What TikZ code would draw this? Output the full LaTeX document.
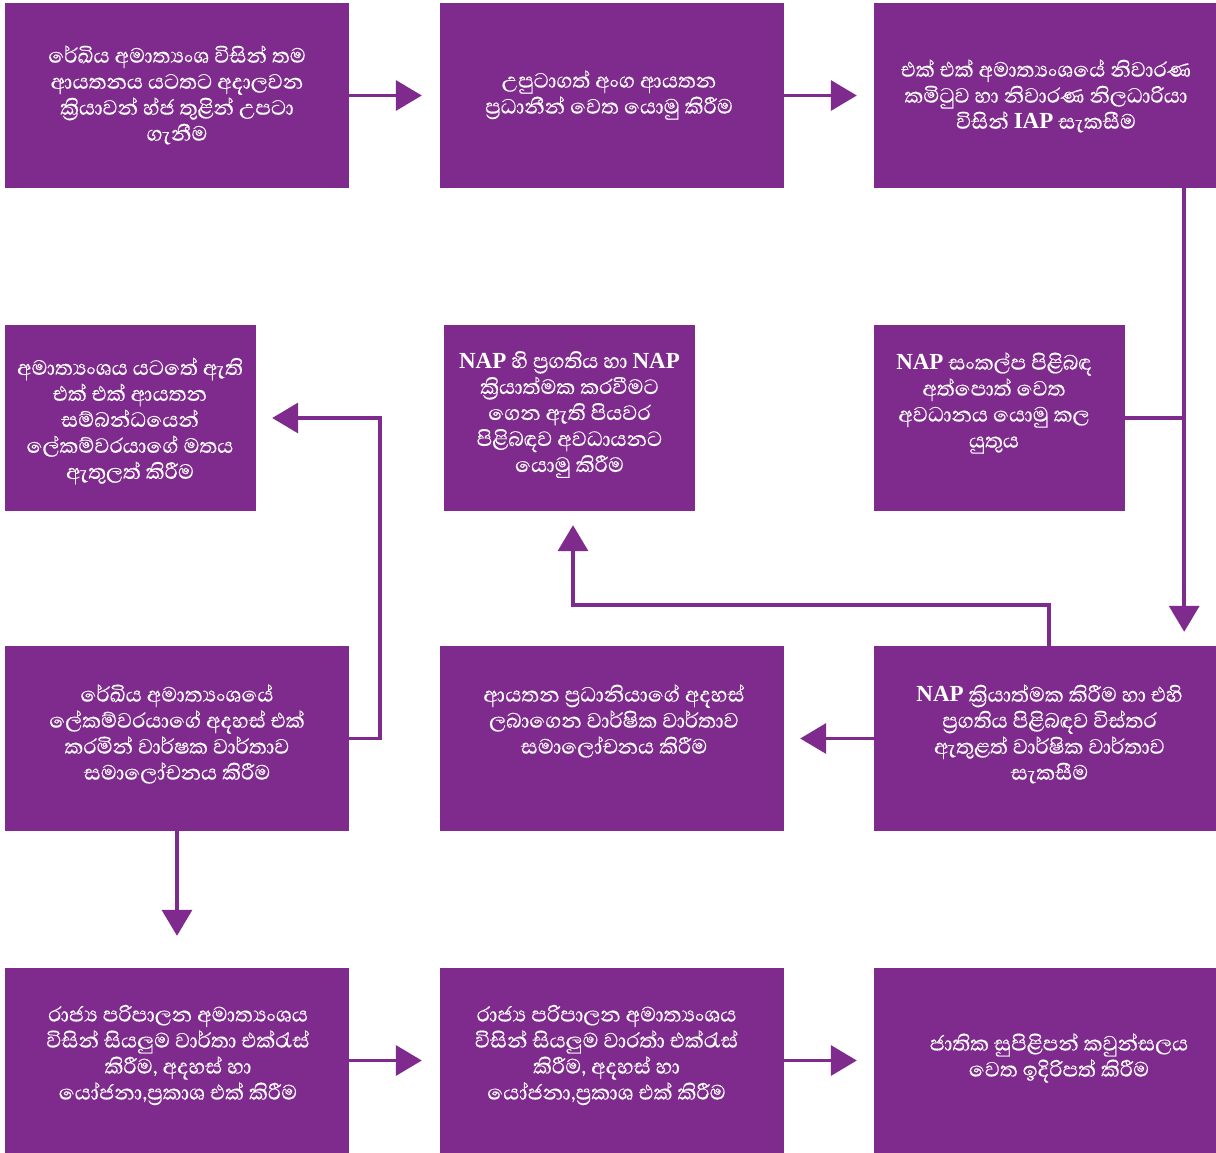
\documentclass[tikz,border=0pt]{standalone}
\usepackage{fontspec}
\setmainfont{Liberation Serif}
\newfontfamily\sinhfont[Script=Sinhala, FakeBold=0.4]{Abhaya Libre}
\newfontfamily\latf{Liberation Serif}
\newcommand\lt[1]{{\latf\bfseries\fontsize{23}{26}\selectfont #1}}
\newcommand\aasign{\XeTeXglyph\XeTeXcharglyph"0DCF\relax}
\usetikzlibrary{arrows.meta}
\definecolor{purp}{RGB}{127,42,141}
\begin{document}
\begin{tikzpicture}[x=1pt,y=-1pt,
  box/.style={fill=purp, draw=none, inner sep=0pt},
  wide/.style={box, minimum width=344pt, minimum height=185pt},
  wider/.style={box, minimum width=342pt, minimum height=185pt},
  narrow/.style={box, minimum width=251pt, minimum height=186pt},
  txt/.style={text=white, align=center, inner sep=0pt, font=\sinhfont\fontsize{26.5}{26}\selectfont},
  conn/.style={draw=purp, line width=3.5pt},
  arr/.style={conn, -{Triangle[length=26pt,width=30pt]}}]
\useasboundingbox[fill=white] (0,0) rectangle (1216,1153);
% boxes
\node[wide]   (b1)  at (177,95.5) {};
\node[wide]   (b2)  at (612,95.5) {};
\node[wider]  (b3)  at (1045,95.5) {};
\node[narrow] (b4)  at (130.5,418) {};
\node[narrow] (b5)  at (569.5,418) {};
\node[narrow] (b6)  at (999.5,418) {};
\node[wide]   (b7)  at (177,738.5) {};
\node[wide]   (b8)  at (612,738.5) {};
\node[wider]  (b9)  at (1045,738.5) {};
\node[wide]   (b10) at (177,1060.5) {};
\node[wide]   (b11) at (612,1060.5) {};
\node[wider]  (b12) at (1045,1060.5) {};
% texts
\node[txt] (t1) at (177,95) {රේඛිය අමාත්‍යංශ විසින් තම\\ආයතනය යටතට අදාලවන\\ක්‍රියාවන් හ්ජ තුළින් උපටා\\ගැනීම};
\node[txt] (t2) at (609,95) {උපුටාගත් අංග ආයතන\\ප්‍රධානීන් වෙත යොමු කිරීම};
\node[txt] (t3) at (1046,96) {එක් එක් අමාත්‍යංශයේ නිවාරණ\\කමිටුව හා නිවාරණ නිලධාරියා\\විසින් \lt{IAP} සැකසීම};
\node[txt] (t4) at (130,421) {අමාත්‍යංශය යටතේ ඇති\\එක් එක් ආයතන\\සම්බන්ධයෙන්\\ලේකම්වරයාගේ මතය\\ඇතුලත් කිරීම};
\node[txt] (t5) at (569.5,414.5) {\lt{NAP} හි ප්‍රගතිය හා \lt{NAP}\\ක්‍රියාත්මක කරවීමට\\ගෙන ඇති පියවර\\පිළිබඳව අවධායනට\\යොමු කිරීම};
\node[txt] (t6) at (994,403) {\lt{NAP} සංකල්ප පිළිබඳ\\අත්පොත් වෙත\\අවධානය යොමු කල\\යුතුය};
\node[txt] (t7) at (177,734) {රේඛිය අමාත්‍යංශයේ\\ලේකම්වරයාගේ අදහස් එක්\\කරමින් වාර්ෂක වාර්තාව\\සමාලෝචනය කිරීම};
\node[txt] (t8) at (614,721) {ආයතන ප්‍රධානියාගේ අදහස්\\ලබාගෙන වාර්ෂික වාර්තාව\\සමාලෝචනය කිරීම};
\node[txt] (t9) at (1049.5,734) {\lt{NAP} ක්‍රියාත්මක කිරීම හා එහි\\ප්‍රගතිය පිළිබඳව විස්තර\\ඇතුළත් වාර්ෂික වාර්තාව\\සැකසීම};
\node[txt] (t10) at (178,1055) {රාජ්‍ය පරිපාලන අමාත්‍යංශය\\විසින් සියලුම වාර්තා එක්රැස්\\කිරීම, අදහස් හා\\යෝජනා,ප්‍රකාශ එක් කිරීම};
\node[txt] (t11) at (606.5,1055) {රාජ්‍ය පරිපාලන අමාත්‍යංශය\\විසින් සියලුම වාරත්\aasign{} එක්රැස්\\කිරීම, අදහස් හා\\යෝජනා,ප්‍රකාශ එක් කිරීම};
\node[txt] (t12) at (1059,1058) {ජාතික සුපිළිපන් කවුන්සලය\\වෙත ඉදිරිපත් කිරීම};
% connectors
\draw[arr, shorten >=18pt] (b1.east) -- (b2.west);
\draw[arr, shorten >=17pt] (b2.east) -- (b3.west);
\coordinate (v1) at ([xshift=-32pt]b3.south east);
\coordinate (v2) at ([xshift=-32pt]b9.north east);
\draw[arr, shorten >=14pt] (v1) -- (v2);
\draw[conn] (b6.east) -- (b6.east -| v1);
\draw[arr, shorten >=14pt] ([xshift=4pt]b9.north) -- ++(0,-41) -| ([xshift=3.5pt]b5.south);
\draw[arr, shorten >=16pt] (b9.west) -- (b8.east);
\draw[arr, shorten >=16pt] (b7.east) -- ++(31,0) |- (b4.east);
\draw[arr, shorten >=32pt] (b7.south) -- (b10.north);
\draw[arr, shorten >=18pt] (b10.east) -- (b11.west);
\draw[arr, shorten >=17pt] (b11.east) -- (b12.west);
\end{tikzpicture}
\end{document}
